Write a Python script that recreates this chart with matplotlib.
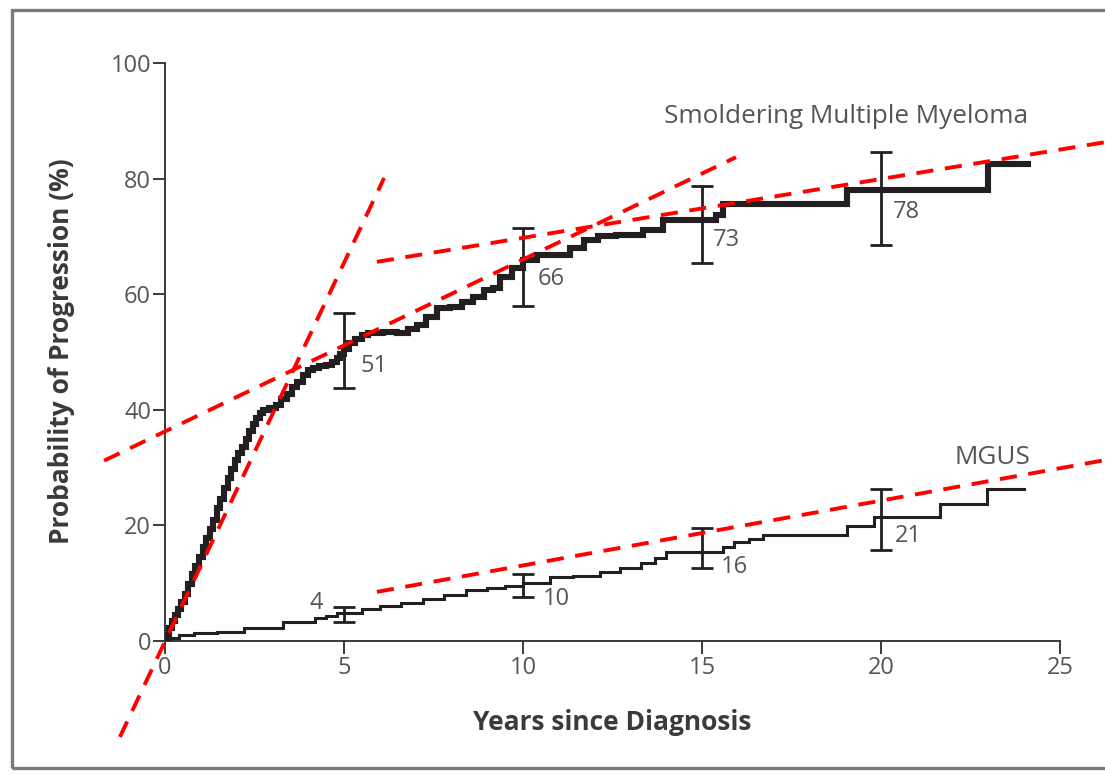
import matplotlib
matplotlib.use("Agg")
import matplotlib.pyplot as plt
from matplotlib.patches import Rectangle

plt.rcParams['font.family'] = ['Open Sans', 'DejaVu Sans']

# smoldering multiple myeloma curve (years, % progression)
smm_t = [0, 0.05, 0.12, 0.2, 0.28, 0.36, 0.45, 0.55, 0.65, 0.75, 0.85, 0.95, 1.05, 1.15,
         1.25, 1.35, 1.45, 1.55, 1.65, 1.75, 1.85, 1.95, 2.05, 2.15, 2.25, 2.35, 2.45,
         2.55, 2.65, 2.75, 2.9, 3.1, 3.25, 3.4, 3.55, 3.7, 3.85, 4.0, 4.13, 4.3, 4.5,
         4.66, 4.8, 4.9, 5.0, 5.15, 5.3, 5.5, 5.67, 6.1, 6.48, 6.8, 7.04, 7.3,
         7.6, 7.96, 8.3, 8.6, 8.9, 9.16, 9.36, 9.7, 10.0, 10.4, 11.0, 11.3, 11.7, 12.1,
         12.6, 13.35, 13.9, 15.4, 15.6, 19.05, 23.0, 24.1]
smm_p = [0, 1, 2.2, 3.4, 4.5, 5.5, 6.8, 8.2, 9.8, 11.6, 13, 14.6, 16.2, 17.8,
         19.4, 21, 23, 24.6, 26.4, 28.2, 29.8, 31.3, 32.6, 33.6, 35, 36.3, 37.6,
         38.6, 39.5, 40, 40.3, 40.8, 41.8, 42.8, 44, 44.8, 46, 46.8, 47.3, 47.6, 47.8,
         48.2, 49, 49.7, 50.5, 51.5, 52.3, 53, 53.3, 53.5, 53.3, 54, 54.7, 56,
         57.6, 57.8, 58.7, 59.5, 60.7, 61, 63, 64.5, 65.9, 66.8, 66.8, 68, 69.4, 70,
         70.2, 71.1, 72.8, 73.7, 75.6, 78, 82.5, 82.5]

# MGUS curve
mgus_t = [0, 0.15, 0.4, 0.8, 1.45, 2.2, 3.3, 4.2, 4.5, 4.8, 5.5, 6.0, 6.6, 7.2, 7.8,
          8.4, 9.0, 9.5, 10.0, 10.75, 11.4, 12.15, 12.7, 13.3, 13.7, 14.0, 15.6, 15.9,
          16.3, 16.7, 19.05, 19.8, 21.65, 22.96, 24.0]
mgus_p = [0, 0.5, 1.0, 1.3, 1.6, 2.2, 3.3, 4.0, 4.4, 4.8, 5.5, 6.0, 6.6, 7.3, 8.0,
          8.8, 9.2, 9.6, 10.0, 11.1, 11.3, 11.9, 12.6, 13.5, 14.3, 15.4, 16.3, 17.1,
          17.7, 18.3, 19.9, 21.5, 23.7, 26.3, 26.3]

# confidence intervals at 5, 10, 15, 20 years
eb_years = [5, 10, 15, 20]
smm_est = [51, 66, 73, 78]
smm_lo = [43.8, 58.0, 65.4, 68.5]
smm_hi = [56.7, 71.5, 78.7, 84.6]
mgus_est = [4, 10, 16, 21]
mgus_lo = [3.3, 7.6, 12.6, 15.7]
mgus_hi = [5.9, 11.6, 19.5, 26.3]

# label anchor positions for the estimates
smm_lab_x = [5.47, 10.42, 15.3, 20.33]
smm_lab_y = [47.6, 62.6, 69.4, 74.2]
mgus_lab_x = [4.41, 10.56, 15.53, 20.39]
mgus_lab_y = [6.6, 7.3, 12.8, 18.2]

# red dashed trend lines: (x0, y0, x1, y1)
trend_lines = [
    (-1.26, -16.6, 6.12, 80.1),
    (-1.70, 31.2, 15.95, 83.7),
    (5.92, 65.6, 26.26, 86.3),
    (5.92, 8.5, 26.26, 31.3),
]

ink = '#231f20'
grey = '#555557'

fig = plt.figure(figsize=(11.05, 7.74), dpi=100)
ax = fig.add_axes([165 / 1105, 1 - 641 / 774, 895 / 1105, 578 / 774])

# outer frame
fig.patches.append(Rectangle((12 / 1105, 1 - 768 / 774), 1.2, (768 - 10) / 774,
                             transform=fig.transFigure, fill=False,
                             edgecolor='#7a7a7a', lw=2.4))

ax.plot(smm_t, smm_p, drawstyle='steps-post', color=ink, lw=4.4,
        solid_joinstyle='miter', zorder=3)
ax.plot(mgus_t, mgus_p, drawstyle='steps-post', color=ink, lw=2.2,
        solid_joinstyle='miter', zorder=3)

ax.errorbar(eb_years, smm_est,
            yerr=[[e - l for e, l in zip(smm_est, smm_lo)],
                  [h - e for e, h in zip(smm_est, smm_hi)]],
            fmt='none', ecolor=ink, elinewidth=2.0, capsize=8, capthick=2.0, zorder=4)
ax.errorbar(eb_years, mgus_est,
            yerr=[[e - l for e, l in zip(mgus_est, mgus_lo)],
                  [h - e for e, h in zip(mgus_est, mgus_hi)]],
            fmt='none', ecolor=ink, elinewidth=2.0, capsize=8, capthick=2.0, zorder=4)

for x0, y0, x1, y1 in trend_lines:
    ax.plot([x0, x1], [y0, y1], color='#ff0000', lw=2.8, dashes=(4.4, 3.0),
            dash_capstyle='butt', clip_on=False, zorder=5)

for x, y, v in zip(smm_lab_x, smm_lab_y, smm_est):
    ax.text(x, y, str(v), ha='left', va='center', fontsize=17, color=grey)
for i, (x, y, v) in enumerate(zip(mgus_lab_x, mgus_lab_y, mgus_est)):
    ax.text(x, y, str(v), ha='right' if i == 0 else 'left', va='center',
            fontsize=17, color=grey)

ax.text(24.1, 90.7, 'Smoldering Multiple Myeloma', ha='right', va='center',
        fontsize=18.8, color=grey)
ax.text(24.16, 31.7, 'MGUS', ha='right', va='center', fontsize=18.8, color=grey)

ax.set_xlim(0, 25)
ax.set_ylim(0, 100)
ax.set_xticks([0, 5, 10, 15, 20, 25])
ax.set_yticks([0, 20, 40, 60, 80, 100])
for s in ['top', 'right']:
    ax.spines[s].set_visible(False)
for s in ['left', 'bottom']:
    ax.spines[s].set_color('#3a3a3a')
    ax.spines[s].set_linewidth(1.4)
ax.tick_params(direction='out', length=9, width=1.4, color='#3a3a3a',
               labelsize=17, labelcolor=grey)
ax.tick_params(axis='x', pad=2)
ax.tick_params(axis='y', pad=1)

fig.text(612 / 1105, 1 - 722 / 774, 'Years since Diagnosis', ha='center', va='center',
         fontsize=19, fontweight='bold', color='#3a3a3a')
fig.text(62 / 1105, 1 - 351 / 774, 'Probability of Progression (%)', ha='center',
         va='center', rotation=90, fontsize=19, fontweight='bold', color='#3a3a3a')

fig.savefig('out.png', dpi=100)
